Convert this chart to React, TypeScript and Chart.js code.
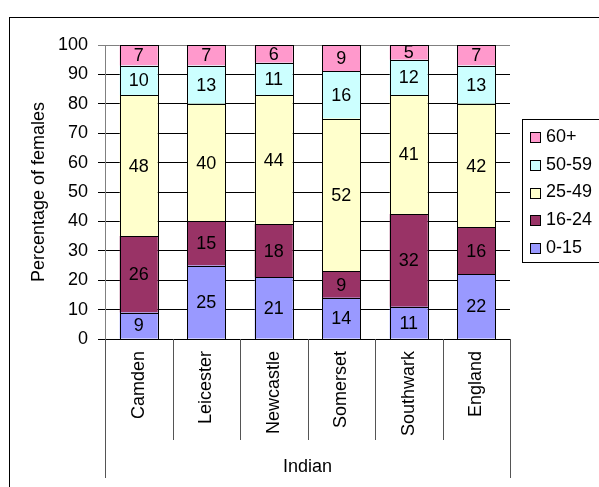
import React, { useEffect, useRef } from "react";
import { Chart, registerables } from "chart.js";

Chart.register(...registerables);

const categories = ["Camden", "Leicester", "Newcastle", "Somerset", "Southwark", "England"];
const age0to15 = [9, 25, 21, 14, 11, 22];
const age16to24 = [26, 15, 18, 9, 31.5, 16];
const age25to49 = [48, 40, 44, 52, 40.5, 42];
const age50to59 = [10, 13, 11, 16, 12, 13];
const age60plus = [7, 7, 6, 9, 5, 7];
const seriesLabels = ["0-15", "16-24", "25-49", "50-59", "60+"];
const seriesColors = ["#9999FF", "#993366", "#FFFFCC", "#CCFFFF", "#FF99CC"];
const yTitle = "Percentage of females";
const xTitle = "Indian";

const FONT = "'Liberation Sans', Arial, sans-serif";

const decorPlugin = {
  id: "decor",
  afterDatasetsDraw(chart: any) {
    const ctx = chart.ctx;
    const area = chart.chartArea;
    ctx.save();
    // crisp bar outlines
    ctx.strokeStyle = "#000";
    ctx.lineWidth = 1;
    chart.data.datasets.forEach((ds: any, di: number) => {
      const meta = chart.getDatasetMeta(di);
      meta.data.forEach((bar: any) => {
        const p = bar.getProps(["x", "y", "base", "width"], true);
        const l = Math.round(p.x - p.width / 2) + 0.5;
        const r = Math.round(p.x + p.width / 2) + 0.5;
        const t = Math.round(Math.max(p.y, area.top)) + 0.5;
        const b = Math.round(p.base) + 0.5;
        ctx.strokeRect(l, t, r - l, b - t);
      });
    });
    // value labels
    ctx.font = `18px ${FONT}`;
    ctx.fillStyle = "#000";
    ctx.textAlign = "center";
    ctx.textBaseline = "middle";
    chart.data.datasets.forEach((ds: any, di: number) => {
      const meta = chart.getDatasetMeta(di);
      meta.data.forEach((bar: any, i: number) => {
        const v = ds.data[i];
        const top = Math.max(bar.y, area.top);
        const cy = (top + bar.base) / 2;
        ctx.fillText(String(Math.round(v)), bar.x, cy + 1);
      });
    });
    ctx.restore();
  },
  afterDraw(chart: any) {
    const ctx = chart.ctx;
    const area = chart.chartArea;
    const xs = chart.scales.x;
    ctx.save();
    // outer frame
    ctx.strokeStyle = "#000";
    ctx.lineWidth = 1;
    ctx.strokeRect(9.5, 17.5, 800, 800);
    // category separators
    const n = categories.length;
    const step = (area.right - area.left) / n;
    ctx.strokeStyle = "#555";
    for (let i = 0; i <= n; i++) {
      const x = Math.round(xs.getPixelForValue(0) - step / 2 + i * step) + 0.5;
      const bottom = i === 0 || i === n ? 478 : 440;
      ctx.beginPath();
      ctx.moveTo(x, area.bottom);
      ctx.lineTo(x, bottom);
      ctx.stroke();
    }
    // legend
    ctx.strokeStyle = "#000";
    ctx.strokeRect(522.5, 119.5, 200, 143);
    ctx.font = `18px ${FONT}`;
    ctx.textAlign = "left";
    ctx.textBaseline = "middle";
    for (let k = 0; k < seriesLabels.length; k++) {
      const idx = seriesLabels.length - 1 - k;
      const cy = 137 + k * 27.75;
      ctx.fillStyle = seriesColors[idx];
      ctx.fillRect(530, Math.round(cy - 5), 10, 10);
      ctx.strokeStyle = "#000";
      ctx.strokeRect(530.5, Math.round(cy - 5) + 0.5, 10, 10);
      ctx.fillStyle = "#000";
      ctx.fillText(seriesLabels[idx], 546, cy);
    }
    ctx.restore();
  },
};

export default function App() {
  const canvasRef = useRef<HTMLCanvasElement | null>(null);

  useEffect(() => {
    const canvas = canvasRef.current;
    if (!canvas) return;
    const seriesData = [age0to15, age16to24, age25to49, age50to59, age60plus];
    const chart = new Chart(canvas, {
      type: "bar",
      data: {
        labels: categories,
        datasets: seriesData.map((d, i) => ({
          label: seriesLabels[i],
          data: d,
          backgroundColor: seriesColors[i],
          borderWidth: 0,
          categoryPercentage: 1,
          barPercentage: 0.563,
        })),
      },
      options: {
        responsive: false,
        animation: false,
        devicePixelRatio: 1,
        layout: { padding: { left: 0, top: 45, right: 89, bottom: 0 } },
        plugins: {
          legend: { display: false },
          tooltip: { enabled: false },
        },
        scales: {
          x: {
            stacked: true,
            grid: { display: false, drawTicks: false },
            border: { display: true, color: "#000" },
            ticks: {
              minRotation: 90,
              maxRotation: 90,
              padding: 12,
              color: "#000",
              font: { family: FONT, size: 18 },
            },
            title: {
              display: true,
              text: xTitle,
              color: "#000",
              font: { family: FONT, size: 18 },
              padding: { top: 0, bottom: 9 },
            },
            afterFit(scale: any) {
              scale.height = 148;
            },
          },
          y: {
            stacked: true,
            min: 0,
            max: 100,
            ticks: {
              stepSize: 10,
              padding: 10,
              color: "#000",
              font: { family: FONT, size: 18 },
            },
            grid: {
              color: (c: any) => (c.tick && c.tick.value === 100 ? "#808080" : "#000"),
              tickLength: 7,
            },
            border: { display: true, color: "#808080" },
            title: {
              display: true,
              text: yTitle,
              color: "#000",
              font: { family: FONT, size: 18 },
              padding: { top: 28, bottom: 0 },
            },
            afterFit(scale: any) {
              scale.width = 105;
            },
          },
        },
      },
      plugins: [decorPlugin],
    });
    return () => chart.destroy();
  }, []);

  return (
    <div style={{ position: "absolute", left: 0, top: 0, width: 599, height: 487, background: "#fff" }}>
      <canvas ref={canvasRef} width={599} height={487} />
    </div>
  );
}
